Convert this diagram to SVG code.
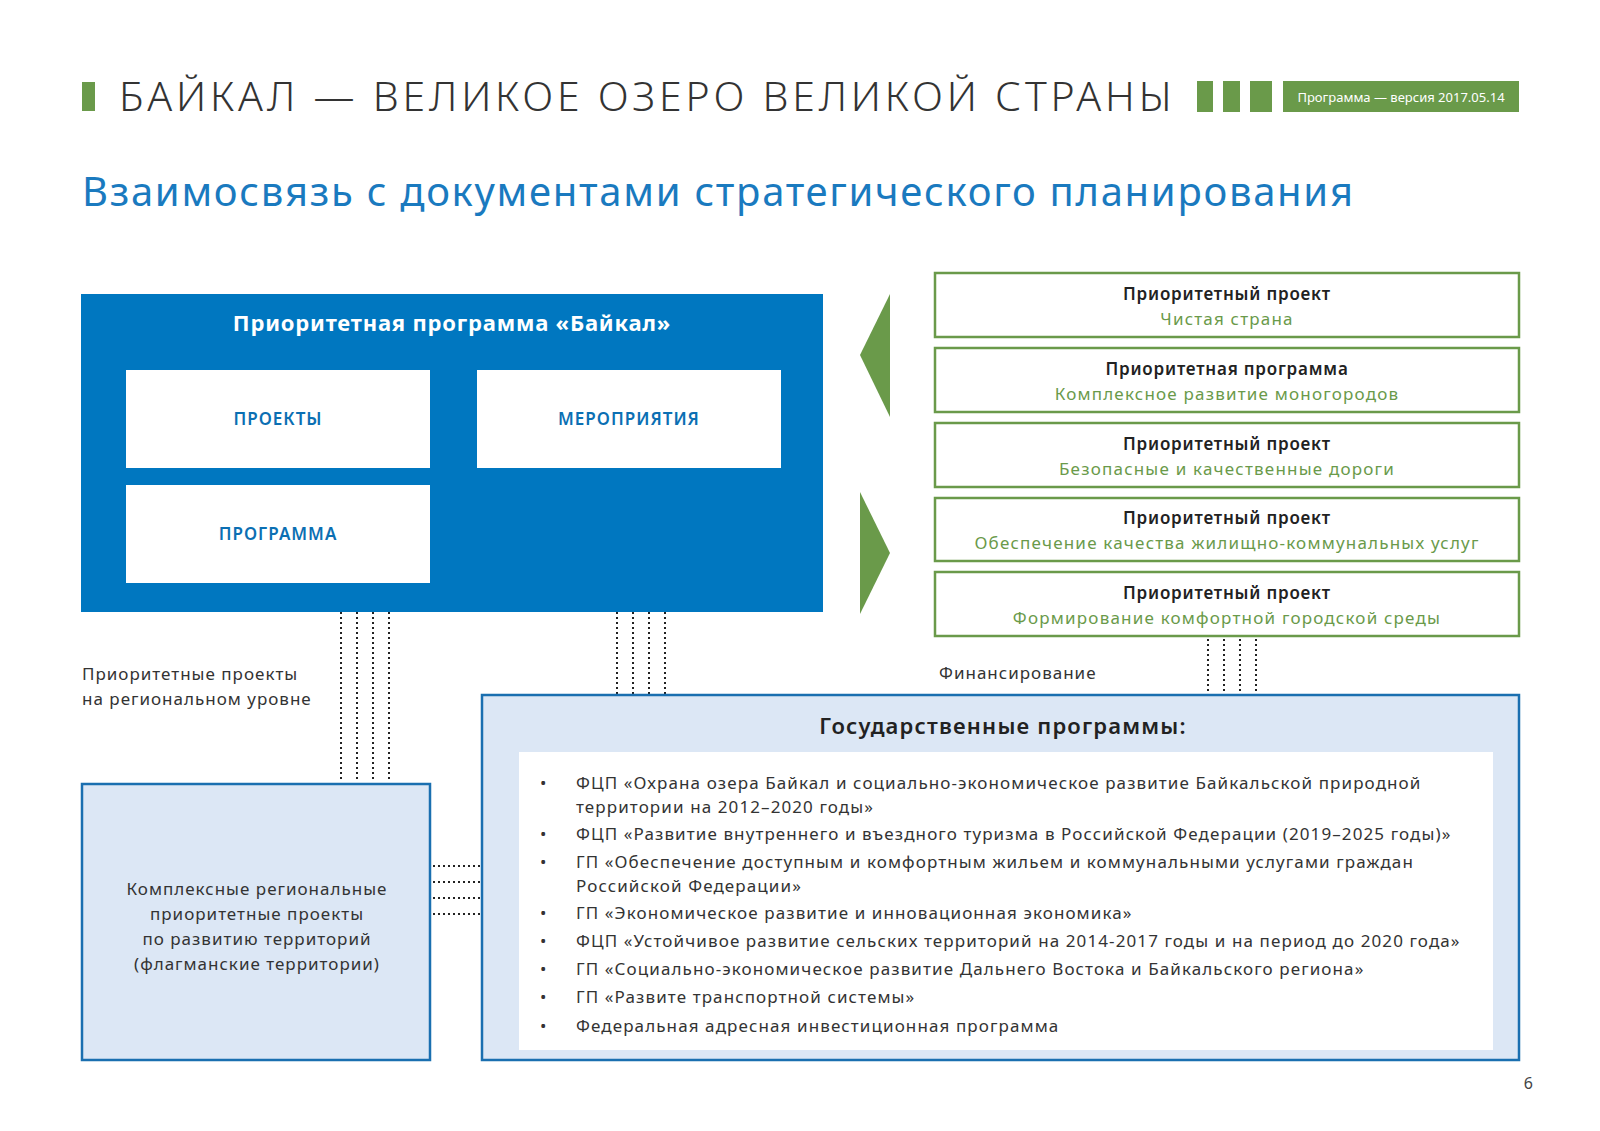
<svg xmlns="http://www.w3.org/2000/svg" width="1600" height="1131" viewBox="0 0 1600 1131">
<style>
text{font-family:"Noto Sans","Open Sans",sans-serif}
.gb{fill:#fff;stroke:#6a9a4a;stroke-width:2.5}
.gt{font-size:17px;font-weight:600;fill:#222;text-anchor:middle;letter-spacing:0.8px}
.gs{font-size:17px;fill:#6a9a4a;text-anchor:middle;letter-spacing:1.2px}
.wb{fill:#fff}
.wt{font-size:17px;font-weight:600;fill:#0b6fb3;text-anchor:middle;letter-spacing:1px}
.dot{stroke:#222;stroke-width:2;stroke-dasharray:2 3;fill:none}
.li{font-size:17px;fill:#333;letter-spacing:1.1px}
.lb{font-size:17px;fill:#333;letter-spacing:1px}
</style>
<rect width="1600" height="1131" fill="#fff"/>
<g id="header">
<rect x="82" y="82" width="13" height="29" fill="#6a9a4a"/>
<text x="119" y="111" font-size="41" font-weight="300" fill="#333" letter-spacing="2.5" textLength="1055">БАЙКАЛ — ВЕЛИКОЕ ОЗЕРО ВЕЛИКОЙ СТРАНЫ</text>
<rect x="1197" y="81" width="16" height="31" fill="#6a9a4a"/>
<rect x="1223" y="81" width="17" height="31" fill="#6a9a4a"/>
<rect x="1250" y="81" width="22" height="31" fill="#6a9a4a"/>
<rect x="1283" y="81" width="236" height="31" fill="#6a9a4a"/>
<text x="1401" y="102" font-size="13" fill="#fff" text-anchor="middle">Программа — версия 2017.05.14</text>
<text x="82" y="206" font-size="40" fill="#1a7abf" letter-spacing="1" textLength="1272">Взаимосвязь с документами стратегического планирования</text>
</g>
<g id="connectors">
<path class="dot" d="M341 612V782M357 612V782M373 612V782M389 612V782"/>
<path class="dot" d="M617 612V694M633 612V694M649 612V694M665 612V694"/>
<path class="dot" d="M1208 639V694M1224 639V694M1240 639V694M1256 639V694"/>
<path class="dot" d="M433 866H480M433 882H480M433 898H480M433 914H480"/>
<polygon points="890,294 890,417 860,355" fill="#6a9a4a"/>
<polygon points="860,492 860,614 890,553" fill="#6a9a4a"/>
</g>
<g id="baikal">
<rect x="81" y="294" width="742" height="318" fill="#0077c0"/>
<text x="452" y="331" font-size="22" font-weight="700" fill="#fff" text-anchor="middle" letter-spacing="0.8">Приоритетная программа «Байкал»</text>
</g>
<g id="projects"><rect class="wb" x="126" y="370" width="304" height="98"/><text class="wt" x="278" y="425">ПРОЕКТЫ</text></g>
<g id="events"><rect class="wb" x="477" y="370" width="304" height="98"/><text class="wt" x="629" y="425">МЕРОПРИЯТИЯ</text></g>
<g id="program"><rect class="wb" x="126" y="485" width="304" height="98"/><text class="wt" x="278" y="540">ПРОГРАММА</text></g>
<g id="p1"><rect class="gb" x="935" y="273" width="584" height="64"/><text class="gt" x="1227" y="300">Приоритетный проект</text><text class="gs" x="1227" y="325">Чистая страна</text></g>
<g id="p2"><rect class="gb" x="935" y="348" width="584" height="64"/><text class="gt" x="1227" y="375">Приоритетная программа</text><text class="gs" x="1227" y="400">Комплексное развитие моногородов</text></g>
<g id="p3"><rect class="gb" x="935" y="423" width="584" height="64"/><text class="gt" x="1227" y="450">Приоритетный проект</text><text class="gs" x="1227" y="475">Безопасные и качественные дороги</text></g>
<g id="p4"><rect class="gb" x="935" y="498" width="584" height="63"/><text class="gt" x="1227" y="524">Приоритетный проект</text><text class="gs" x="1227" y="549">Обеспечение качества жилищно-коммунальных услуг</text></g>
<g id="p5"><rect class="gb" x="935" y="572" width="584" height="64"/><text class="gt" x="1227" y="599">Приоритетный проект</text><text class="gs" x="1227" y="624">Формирование комфортной городской среды</text></g>
<g id="labels">
<text class="lb" x="82" y="680">Приоритетные проекты</text>
<text class="lb" x="82" y="705">на региональном уровне</text>
<text class="lb" x="939" y="679">Финансирование</text>
<text x="1533" y="1089" font-size="16" fill="#444" text-anchor="end">6</text>
</g>
<g id="regional">
<rect x="82" y="784" width="348" height="276" fill="#dce7f5" stroke="#1a6fb0" stroke-width="2.5"/>
<text class="lb" text-anchor="middle" x="257" y="895">Комплексные региональные</text>
<text class="lb" text-anchor="middle" x="257" y="920">приоритетные проекты</text>
<text class="lb" text-anchor="middle" x="257" y="945">по развитию территорий</text>
<text class="lb" text-anchor="middle" x="257" y="970">(флагманские территории)</text>
</g>
<g id="gov">
<rect x="482" y="695" width="1037" height="365" fill="#dce7f5" stroke="#1a6fb0" stroke-width="2.5"/>
<text x="1003" y="734" font-size="22" font-weight="600" fill="#222" text-anchor="middle" letter-spacing="1.2">Государственные программы:</text>
<rect x="519" y="752" width="974" height="298" fill="#fff"/>
<g class="li">
<text x="540" y="789">•</text><text x="576" y="789">ФЦП «Охрана озера Байкал и социально-экономическое развитие Байкальской природной</text>
<text x="576" y="813">территории на 2012–2020 годы»</text>
<text x="540" y="840">•</text><text x="576" y="840">ФЦП «Развитие внутреннего и въездного туризма в Российской Федерации (2019–2025 годы)»</text>
<text x="540" y="868">•</text><text x="576" y="868">ГП «Обеспечение доступным и комфортным жильем и коммунальными услугами граждан</text>
<text x="576" y="892">Российской Федерации»</text>
<text x="540" y="919">•</text><text x="576" y="919">ГП «Экономическое развитие и инновационная экономика»</text>
<text x="540" y="947">•</text><text x="576" y="947">ФЦП «Устойчивое развитие сельских территорий на 2014-2017 годы и на период до 2020 года»</text>
<text x="540" y="975">•</text><text x="576" y="975">ГП «Социально-экономическое развитие Дальнего Востока и Байкальского региона»</text>
<text x="540" y="1003">•</text><text x="576" y="1003">ГП «Развите транспортной системы»</text>
<text x="540" y="1032">•</text><text x="576" y="1032">Федеральная адресная инвестиционная программа</text>
</g>
</g>
</svg>
